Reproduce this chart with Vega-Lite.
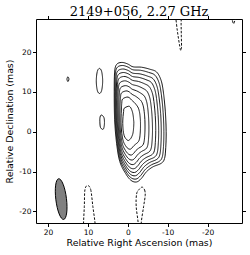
{
  "$schema": "https://vega.github.io/schema/vega-lite/v6.json",
  "width": 206,
  "height": 204,
  "autosize": {"type": "none"},
  "padding": {"left": 36, "top": 19, "right": 8, "bottom": 32},
  "background": "white",
  "title": {"text": "2149+056, 2.27 GHz", "font": "DejaVu Serif", "fontSize": 13, "fontWeight": "normal", "color": "black", "anchor": "middle", "frame": "group", "offset": 3, "dy": 7},
  "config": {"view": {"stroke": "black", "strokeWidth": 1}},
  "datasets": {
    "ct": [
      {"c":"c1","i":1,"x":2.8,"y":16.9,"s":"p"},{"c":"c1","i":2,"x":1.5,"y":17.4,"s":"p"},{"c":"c1","i":3,"x":0.0,"y":17.0,"s":"p"},{"c":"c1","i":4,"x":-1.3,"y":16.3,"s":"p"},{"c":"c1","i":5,"x":-3.4,"y":16.2,"s":"p"},{"c":"c1","i":6,"x":-5.5,"y":15.7,"s":"p"},{"c":"c1","i":7,"x":-7.2,"y":15.0,"s":"p"},{"c":"c1","i":8,"x":-8.3,"y":13.0,"s":"p"},{"c":"c1","i":9,"x":-8.9,"y":10.0,"s":"p"},{"c":"c1","i":10,"x":-9.4,"y":5.0,"s":"p"},{"c":"c1","i":11,"x":-9.6,"y":0.0,"s":"p"},{"c":"c1","i":12,"x":-9.5,"y":-4.0,"s":"p"},{"c":"c1","i":13,"x":-9.2,"y":-6.7,"s":"p"},{"c":"c1","i":14,"x":-8.4,"y":-7.9,"s":"p"},{"c":"c1","i":15,"x":-6.3,"y":-8.8,"s":"p"},{"c":"c1","i":16,"x":-4.7,"y":-10.0,"s":"p"},{"c":"c1","i":17,"x":-3.4,"y":-11.7,"s":"p"},{"c":"c1","i":18,"x":-2.2,"y":-12.6,"s":"p"},{"c":"c1","i":19,"x":-0.8,"y":-12.2,"s":"p"},{"c":"c1","i":20,"x":0.6,"y":-10.4,"s":"p"},{"c":"c1","i":21,"x":2.0,"y":-7.5,"s":"p"},{"c":"c1","i":22,"x":2.8,"y":-3.0,"s":"p"},{"c":"c1","i":23,"x":3.3,"y":3.0,"s":"p"},{"c":"c1","i":24,"x":3.4,"y":10.0,"s":"p"},{"c":"c1","i":25,"x":3.3,"y":15.0,"s":"p"},
      {"c":"c2","i":1,"x":2.67,"y":16.13,"s":"p"},{"c":"c2","i":2,"x":1.38,"y":16.63,"s":"p"},{"c":"c2","i":3,"x":-0.04,"y":16.24,"s":"p"},{"c":"c2","i":4,"x":-1.27,"y":15.56,"s":"p"},{"c":"c2","i":5,"x":-3.24,"y":15.42,"s":"p"},{"c":"c2","i":6,"x":-5.21,"y":14.9,"s":"p"},{"c":"c2","i":7,"x":-6.79,"y":14.2,"s":"p"},{"c":"c2","i":8,"x":-7.82,"y":12.3,"s":"p"},{"c":"c2","i":9,"x":-8.38,"y":9.48,"s":"p"},{"c":"c2","i":10,"x":-8.85,"y":4.79,"s":"p"},{"c":"c2","i":11,"x":-9.03,"y":0.07,"s":"p"},{"c":"c2","i":12,"x":-8.93,"y":-3.72,"s":"p"},{"c":"c2","i":13,"x":-8.64,"y":-6.28,"s":"p"},{"c":"c2","i":14,"x":-7.88,"y":-7.43,"s":"p"},{"c":"c2","i":15,"x":-5.92,"y":-8.3,"s":"p"},{"c":"c2","i":16,"x":-4.41,"y":-9.43,"s":"p"},{"c":"c2","i":17,"x":-3.19,"y":-11.02,"s":"p"},{"c":"c2","i":18,"x":-2.06,"y":-11.87,"s":"p"},{"c":"c2","i":19,"x":-0.73,"y":-11.49,"s":"p"},{"c":"c2","i":20,"x":0.6,"y":-9.78,"s":"p"},{"c":"c2","i":21,"x":1.92,"y":-7.05,"s":"p"},{"c":"c2","i":22,"x":2.68,"y":-2.78,"s":"p"},{"c":"c2","i":23,"x":3.16,"y":2.94,"s":"p"},{"c":"c2","i":24,"x":3.25,"y":9.57,"s":"p"},{"c":"c2","i":25,"x":3.14,"y":14.31,"s":"p"},
      {"c":"c3","i":1,"x":2.52,"y":15.25,"s":"p"},{"c":"c3","i":2,"x":1.25,"y":15.75,"s":"p"},{"c":"c3","i":3,"x":-0.09,"y":15.38,"s":"p"},{"c":"c3","i":4,"x":-1.24,"y":14.71,"s":"p"},{"c":"c3","i":5,"x":-3.06,"y":14.52,"s":"p"},{"c":"c3","i":6,"x":-4.87,"y":13.99,"s":"p"},{"c":"c3","i":7,"x":-6.33,"y":13.29,"s":"p"},{"c":"c3","i":8,"x":-7.27,"y":11.5,"s":"p"},{"c":"c3","i":9,"x":-7.79,"y":8.88,"s":"p"},{"c":"c3","i":10,"x":-8.22,"y":4.55,"s":"p"},{"c":"c3","i":11,"x":-8.38,"y":0.15,"s":"p"},{"c":"c3","i":12,"x":-8.28,"y":-3.4,"s":"p"},{"c":"c3","i":13,"x":-8.0,"y":-5.8,"s":"p"},{"c":"c3","i":14,"x":-7.29,"y":-6.9,"s":"p"},{"c":"c3","i":15,"x":-5.48,"y":-7.72,"s":"p"},{"c":"c3","i":16,"x":-4.09,"y":-8.78,"s":"p"},{"c":"c3","i":17,"x":-2.95,"y":-10.25,"s":"p"},{"c":"c3","i":18,"x":-1.89,"y":-11.04,"s":"p"},{"c":"c3","i":19,"x":-0.65,"y":-10.68,"s":"p"},{"c":"c3","i":20,"x":0.6,"y":-9.08,"s":"p"},{"c":"c3","i":21,"x":1.84,"y":-6.53,"s":"p"},{"c":"c3","i":22,"x":2.55,"y":-2.52,"s":"p"},{"c":"c3","i":23,"x":3.0,"y":2.87,"s":"p"},{"c":"c3","i":24,"x":3.07,"y":9.07,"s":"p"},{"c":"c3","i":25,"x":2.96,"y":13.51,"s":"p"},
      {"c":"c4","i":1,"x":2.36,"y":14.37,"s":"p"},{"c":"c4","i":2,"x":1.12,"y":14.87,"s":"p"},{"c":"c4","i":3,"x":-0.14,"y":14.52,"s":"p"},{"c":"c4","i":4,"x":-1.21,"y":13.86,"s":"p"},{"c":"c4","i":5,"x":-2.88,"y":13.62,"s":"p"},{"c":"c4","i":6,"x":-4.53,"y":13.08,"s":"p"},{"c":"c4","i":7,"x":-5.87,"y":12.38,"s":"p"},{"c":"c4","i":8,"x":-6.72,"y":10.7,"s":"p"},{"c":"c4","i":9,"x":-7.2,"y":8.28,"s":"p"},{"c":"c4","i":10,"x":-7.58,"y":4.31,"s":"p"},{"c":"c4","i":11,"x":-7.73,"y":0.23,"s":"p"},{"c":"c4","i":12,"x":-7.63,"y":-3.08,"s":"p"},{"c":"c4","i":13,"x":-7.36,"y":-5.32,"s":"p"},{"c":"c4","i":14,"x":-6.7,"y":-6.36,"s":"p"},{"c":"c4","i":15,"x":-5.04,"y":-7.14,"s":"p"},{"c":"c4","i":16,"x":-3.76,"y":-8.13,"s":"p"},{"c":"c4","i":17,"x":-2.71,"y":-9.48,"s":"p"},{"c":"c4","i":18,"x":-1.73,"y":-10.21,"s":"p"},{"c":"c4","i":19,"x":-0.57,"y":-9.87,"s":"p"},{"c":"c4","i":20,"x":0.6,"y":-8.38,"s":"p"},{"c":"c4","i":21,"x":1.75,"y":-6.0,"s":"p"},{"c":"c4","i":22,"x":2.42,"y":-2.26,"s":"p"},{"c":"c4","i":23,"x":2.83,"y":2.79,"s":"p"},{"c":"c4","i":24,"x":2.89,"y":8.57,"s":"p"},{"c":"c4","i":25,"x":2.78,"y":12.72,"s":"p"},
      {"c":"c5","i":1,"x":2.19,"y":13.38,"s":"p"},{"c":"c5","i":2,"x":0.97,"y":13.88,"s":"p"},{"c":"c5","i":3,"x":-0.19,"y":13.54,"s":"p"},{"c":"c5","i":4,"x":-1.17,"y":12.91,"s":"p"},{"c":"c5","i":5,"x":-2.68,"y":12.62,"s":"p"},{"c":"c5","i":6,"x":-4.16,"y":12.05,"s":"p"},{"c":"c5","i":7,"x":-5.34,"y":11.35,"s":"p"},{"c":"c5","i":8,"x":-6.11,"y":9.8,"s":"p"},{"c":"c5","i":9,"x":-6.53,"y":7.6,"s":"p"},{"c":"c5","i":10,"x":-6.87,"y":4.04,"s":"p"},{"c":"c5","i":11,"x":-6.99,"y":0.32,"s":"p"},{"c":"c5","i":12,"x":-6.89,"y":-2.72,"s":"p"},{"c":"c5","i":13,"x":-6.64,"y":-4.78,"s":"p"},{"c":"c5","i":14,"x":-6.03,"y":-5.76,"s":"p"},{"c":"c5","i":15,"x":-4.54,"y":-6.5,"s":"p"},{"c":"c5","i":16,"x":-3.39,"y":-7.39,"s":"p"},{"c":"c5","i":17,"x":-2.44,"y":-8.61,"s":"p"},{"c":"c5","i":18,"x":-1.54,"y":-9.27,"s":"p"},{"c":"c5","i":19,"x":-0.48,"y":-8.95,"s":"p"},{"c":"c5","i":20,"x":0.6,"y":-7.58,"s":"p"},{"c":"c5","i":21,"x":1.65,"y":-5.42,"s":"p"},{"c":"c5","i":22,"x":2.27,"y":-1.98,"s":"p"},{"c":"c5","i":23,"x":2.65,"y":2.71,"s":"p"},{"c":"c5","i":24,"x":2.7,"y":8.02,"s":"p"},{"c":"c5","i":25,"x":2.58,"y":11.83,"s":"p"},
      {"c":"c6","i":1,"x":2.0,"y":12.28,"s":"p"},{"c":"c6","i":2,"x":0.81,"y":12.78,"s":"p"},{"c":"c6","i":3,"x":-0.25,"y":12.46,"s":"p"},{"c":"c6","i":4,"x":-1.13,"y":11.85,"s":"p"},{"c":"c6","i":5,"x":-2.46,"y":11.5,"s":"p"},{"c":"c6","i":6,"x":-3.74,"y":10.91,"s":"p"},{"c":"c6","i":7,"x":-4.76,"y":10.21,"s":"p"},{"c":"c6","i":8,"x":-5.42,"y":8.8,"s":"p"},{"c":"c6","i":9,"x":-5.79,"y":6.85,"s":"p"},{"c":"c6","i":10,"x":-6.08,"y":3.74,"s":"p"},{"c":"c6","i":11,"x":-6.18,"y":0.42,"s":"p"},{"c":"c6","i":12,"x":-6.08,"y":-2.32,"s":"p"},{"c":"c6","i":13,"x":-5.84,"y":-4.18,"s":"p"},{"c":"c6","i":14,"x":-5.29,"y":-5.09,"s":"p"},{"c":"c6","i":15,"x":-3.99,"y":-5.78,"s":"p"},{"c":"c6","i":16,"x":-2.98,"y":-6.58,"s":"p"},{"c":"c6","i":17,"x":-2.14,"y":-7.65,"s":"p"},{"c":"c6","i":18,"x":-1.34,"y":-8.23,"s":"p"},{"c":"c6","i":19,"x":-0.38,"y":-7.94,"s":"p"},{"c":"c6","i":20,"x":0.6,"y":-6.7,"s":"p"},{"c":"c6","i":21,"x":1.54,"y":-4.77,"s":"p"},{"c":"c6","i":22,"x":2.11,"y":-1.66,"s":"p"},{"c":"c6","i":23,"x":2.45,"y":2.62,"s":"p"},{"c":"c6","i":24,"x":2.48,"y":7.4,"s":"p"},{"c":"c6","i":25,"x":2.36,"y":10.84,"s":"p"},
      {"c":"c7","i":1,"x":1.79,"y":11.07,"s":"p"},{"c":"c7","i":2,"x":0.63,"y":11.57,"s":"p"},{"c":"c7","i":3,"x":-0.32,"y":11.28,"s":"p"},{"c":"c7","i":4,"x":-1.09,"y":10.68,"s":"p"},{"c":"c7","i":5,"x":-2.21,"y":10.26,"s":"p"},{"c":"c7","i":6,"x":-3.27,"y":9.66,"s":"p"},{"c":"c7","i":7,"x":-4.13,"y":8.96,"s":"p"},{"c":"c7","i":8,"x":-4.67,"y":7.7,"s":"p"},{"c":"c7","i":9,"x":-4.98,"y":6.03,"s":"p"},{"c":"c7","i":10,"x":-5.21,"y":3.41,"s":"p"},{"c":"c7","i":11,"x":-5.28,"y":0.53,"s":"p"},{"c":"c7","i":12,"x":-5.18,"y":-1.88,"s":"p"},{"c":"c7","i":13,"x":-4.96,"y":-3.52,"s":"p"},{"c":"c7","i":14,"x":-4.48,"y":-4.35,"s":"p"},{"c":"c7","i":15,"x":-3.39,"y":-4.98,"s":"p"},{"c":"c7","i":16,"x":-2.53,"y":-5.68,"s":"p"},{"c":"c7","i":17,"x":-1.81,"y":-6.59,"s":"p"},{"c":"c7","i":18,"x":-1.11,"y":-7.09,"s":"p"},{"c":"c7","i":19,"x":-0.27,"y":-6.82,"s":"p"},{"c":"c7","i":20,"x":0.6,"y":-5.74,"s":"p"},{"c":"c7","i":21,"x":1.42,"y":-4.06,"s":"p"},{"c":"c7","i":22,"x":1.93,"y":-1.3,"s":"p"},{"c":"c7","i":23,"x":2.22,"y":2.52,"s":"p"},{"c":"c7","i":24,"x":2.23,"y":6.71,"s":"p"},{"c":"c7","i":25,"x":2.11,"y":9.75,"s":"p"},
      {"c":"c8","i":1,"x":1.57,"y":9.75,"s":"p"},{"c":"c8","i":2,"x":0.43,"y":10.25,"s":"p"},{"c":"c8","i":3,"x":-0.39,"y":9.98,"s":"p"},{"c":"c8","i":4,"x":-1.04,"y":9.41,"s":"p"},{"c":"c8","i":5,"x":-1.94,"y":8.92,"s":"p"},{"c":"c8","i":6,"x":-2.77,"y":8.29,"s":"p"},{"c":"c8","i":7,"x":-3.43,"y":7.59,"s":"p"},{"c":"c8","i":8,"x":-3.85,"y":6.5,"s":"p"},{"c":"c8","i":9,"x":-4.09,"y":5.13,"s":"p"},{"c":"c8","i":10,"x":-4.27,"y":3.05,"s":"p"},{"c":"c8","i":11,"x":-4.3,"y":0.65,"s":"p"},{"c":"c8","i":12,"x":-4.2,"y":-1.4,"s":"p"},{"c":"c8","i":13,"x":-4.0,"y":-2.8,"s":"p"},{"c":"c8","i":14,"x":-3.59,"y":-3.55,"s":"p"},{"c":"c8","i":15,"x":-2.73,"y":-4.12,"s":"p"},{"c":"c8","i":16,"x":-2.04,"y":-4.7,"s":"p"},{"c":"c8","i":17,"x":-1.45,"y":-5.43,"s":"p"},{"c":"c8","i":18,"x":-0.87,"y":-5.84,"s":"p"},{"c":"c8","i":19,"x":-0.15,"y":-5.6,"s":"p"},{"c":"c8","i":20,"x":0.6,"y":-4.68,"s":"p"},{"c":"c8","i":21,"x":1.29,"y":-3.28,"s":"p"},{"c":"c8","i":22,"x":1.73,"y":-0.92,"s":"p"},{"c":"c8","i":23,"x":1.98,"y":2.42,"s":"p"},{"c":"c8","i":24,"x":1.97,"y":5.97,"s":"p"},{"c":"c8","i":25,"x":1.84,"y":8.57,"s":"p"},
      {"c":"c9","i":1,"x":1.3,"y":8.21,"s":"p"},{"c":"c9","i":2,"x":0.2,"y":8.71,"s":"p"},{"c":"c9","i":3,"x":-0.47,"y":8.47,"s":"p"},{"c":"c9","i":4,"x":-0.98,"y":7.93,"s":"p"},{"c":"c9","i":5,"x":-1.62,"y":7.35,"s":"p"},{"c":"c9","i":6,"x":-2.18,"y":6.69,"s":"p"},{"c":"c9","i":7,"x":-2.62,"y":5.99,"s":"p"},{"c":"c9","i":8,"x":-2.89,"y":5.1,"s":"p"},{"c":"c9","i":9,"x":-3.05,"y":4.08,"s":"p"},{"c":"c9","i":10,"x":-3.16,"y":2.63,"s":"p"},{"c":"c9","i":11,"x":-3.16,"y":0.79,"s":"p"},{"c":"c9","i":12,"x":-3.06,"y":-0.84,"s":"p"},{"c":"c9","i":13,"x":-2.88,"y":-1.96,"s":"p"},{"c":"c9","i":14,"x":-2.55,"y":-2.61,"s":"p"},{"c":"c9","i":15,"x":-1.96,"y":-3.11,"s":"p"},{"c":"c9","i":16,"x":-1.46,"y":-3.56,"s":"p"},{"c":"c9","i":17,"x":-1.03,"y":-4.08,"s":"p"},{"c":"c9","i":18,"x":-0.58,"y":-4.38,"s":"p"},{"c":"c9","i":19,"x":-0.01,"y":-4.18,"s":"p"},{"c":"c9","i":20,"x":0.6,"y":-3.45,"s":"p"},{"c":"c9","i":21,"x":1.13,"y":-2.37,"s":"p"},{"c":"c9","i":22,"x":1.5,"y":-0.47,"s":"p"},{"c":"c9","i":23,"x":1.7,"y":2.29,"s":"p"},{"c":"c9","i":24,"x":1.66,"y":4.54,"s":"p"},{"c":"c9","i":25,"x":1.52,"y":7.18,"s":"p"},
      {"c":"c10","i":1,"x":0.9,"y":5.9,"s":"p"},{"c":"c10","i":2,"x":-0.15,"y":6.4,"s":"p"},{"c":"c10","i":3,"x":-0.6,"y":6.2,"s":"p"},{"c":"c10","i":4,"x":-0.9,"y":5.7,"s":"p"},{"c":"c10","i":5,"x":-1.15,"y":5.0,"s":"p"},{"c":"c10","i":6,"x":-1.3,"y":4.3,"s":"p"},{"c":"c10","i":7,"x":-1.4,"y":3.6,"s":"p"},{"c":"c10","i":8,"x":-1.45,"y":3.0,"s":"p"},{"c":"c10","i":9,"x":-1.5,"y":2.5,"s":"p"},{"c":"c10","i":10,"x":-1.5,"y":2.0,"s":"p"},{"c":"c10","i":11,"x":-1.45,"y":1.0,"s":"p"},{"c":"c10","i":12,"x":-1.35,"y":0.0,"s":"p"},{"c":"c10","i":13,"x":-1.2,"y":-0.7,"s":"p"},{"c":"c10","i":14,"x":-1.0,"y":-1.2,"s":"p"},{"c":"c10","i":15,"x":-0.8,"y":-1.6,"s":"p"},{"c":"c10","i":16,"x":-0.6,"y":-1.85,"s":"p"},{"c":"c10","i":17,"x":-0.4,"y":-2.05,"s":"p"},{"c":"c10","i":18,"x":-0.15,"y":-2.2,"s":"p"},{"c":"c10","i":19,"x":0.2,"y":-2.05,"s":"p"},{"c":"c10","i":20,"x":0.6,"y":-1.6,"s":"p"},{"c":"c10","i":21,"x":0.9,"y":-1.0,"s":"p"},{"c":"c10","i":22,"x":1.15,"y":0.2,"s":"p"},{"c":"c10","i":23,"x":1.27,"y":2.1,"s":"p"},{"c":"c10","i":24,"x":1.2,"y":3.8,"s":"p"},{"c":"c10","i":25,"x":1.05,"y":5.1,"s":"p"},
      {"c":"i1","i":1,"x":7.1,"y":15.9,"s":"p"},{"c":"i1","i":2,"x":6.55,"y":15.1,"s":"p"},{"c":"i1","i":3,"x":6.3,"y":12.75,"s":"p"},{"c":"i1","i":4,"x":6.55,"y":10.4,"s":"p"},{"c":"i1","i":5,"x":7.1,"y":9.6,"s":"p"},{"c":"i1","i":6,"x":7.65,"y":10.4,"s":"p"},{"c":"i1","i":7,"x":7.9,"y":12.75,"s":"p"},{"c":"i1","i":8,"x":7.65,"y":15.1,"s":"p"},
      {"c":"i2","i":1,"x":6.6,"y":4.2,"s":"p"},{"c":"i2","i":2,"x":6.0,"y":3.6,"s":"p"},{"c":"i2","i":3,"x":5.85,"y":2.3,"s":"p"},{"c":"i2","i":4,"x":6.0,"y":1.0,"s":"p"},{"c":"i2","i":5,"x":6.3,"y":0.6,"s":"p"},{"c":"i2","i":6,"x":6.85,"y":1.1,"s":"p"},{"c":"i2","i":7,"x":7.0,"y":2.5,"s":"p"},{"c":"i2","i":8,"x":6.95,"y":3.7,"s":"p"},
      {"c":"i3","i":1,"x":15.0,"y":13.8,"s":"p"},{"c":"i3","i":2,"x":14.75,"y":13.2,"s":"p"},{"c":"i3","i":3,"x":15.0,"y":12.6,"s":"p"},{"c":"i3","i":4,"x":15.25,"y":13.2,"s":"p"},
      {"c":"n1","i":1,"x":-11.9,"y":31,"s":"n"},{"c":"n1","i":2,"x":-12.2,"y":27,"s":"n"},{"c":"n1","i":3,"x":-12.6,"y":24,"s":"n"},{"c":"n1","i":4,"x":-13.0,"y":21.5,"s":"n"},{"c":"n1","i":5,"x":-13.25,"y":20.4,"s":"n"},{"c":"n1","i":6,"x":-13.45,"y":21.2,"s":"n"},{"c":"n1","i":7,"x":-13.4,"y":24,"s":"n"},{"c":"n1","i":8,"x":-13.35,"y":27,"s":"n"},{"c":"n1","i":9,"x":-13.3,"y":31,"s":"n"},
      {"c":"n2","i":1,"x":10.1,"y":-13.5,"s":"n"},{"c":"n2","i":2,"x":9.3,"y":-14.5,"s":"n"},{"c":"n2","i":3,"x":8.75,"y":-18.8,"s":"n"},{"c":"n2","i":4,"x":8.2,"y":-23,"s":"n"},{"c":"n2","i":5,"x":7.9,"y":-27,"s":"n"},{"c":"n2","i":6,"x":11.2,"y":-27,"s":"n"},{"c":"n2","i":7,"x":11.1,"y":-23,"s":"n"},{"c":"n2","i":8,"x":10.9,"y":-18.8,"s":"n"},{"c":"n2","i":9,"x":10.75,"y":-14.6,"s":"n"},
      {"c":"n3","i":1,"x":-3.6,"y":-13.9,"s":"n"},{"c":"n3","i":2,"x":-4.2,"y":-14.6,"s":"n"},{"c":"n3","i":3,"x":-4.35,"y":-16,"s":"n"},{"c":"n3","i":4,"x":-3.95,"y":-18.8,"s":"n"},{"c":"n3","i":5,"x":-3.35,"y":-23,"s":"n"},{"c":"n3","i":6,"x":-3.3,"y":-27,"s":"n"},{"c":"n3","i":7,"x":-2.7,"y":-27,"s":"n"},{"c":"n3","i":8,"x":-2.6,"y":-23,"s":"n"},{"c":"n3","i":9,"x":-2.1,"y":-18.8,"s":"n"},{"c":"n3","i":10,"x":-2.2,"y":-15.6,"s":"n"},{"c":"n3","i":11,"x":-2.9,"y":-14.4,"s":"n"},
      {"c":"n4","i":1,"x":-25.9,"y":29,"s":"n"},{"c":"n4","i":2,"x":-26.2,"y":27.9,"s":"n"},{"c":"n4","i":3,"x":-26.5,"y":27.1,"s":"n"},{"c":"n4","i":4,"x":-26.8,"y":27.9,"s":"n"},{"c":"n4","i":5,"x":-27.0,"y":29,"s":"n"}
    ],
    "beam": [{"x": 16.7, "y": -16.9}]
  },
  "layer": [
    {
      "data": {"name": "ct"},
      "mark": {"type": "line", "clip": true, "interpolate": "cardinal-closed", "strokeWidth": 1, "color": "#111111"},
      "encoding": {
        "x": {"field": "x", "type": "quantitative", "scale": {"domain": [-28.6, 23], "reverse": true, "nice": false, "zero": false},
          "axis": {"values": [20, 10, 0, -10, -20], "labelExpr": "'' + datum.value", "tickSize": 3.5, "tickColor": "black", "domain": false, "grid": false, "labelFont": "DejaVu Sans", "labelFontSize": 7.5, "labelColor": "black", "labelPadding": 1.5, "title": "Relative Right Ascension (mas)", "titleFont": "DejaVu Sans", "titleFontSize": 9.4, "titleFontWeight": "normal", "titleColor": "black", "titlePadding": 3}},
        "y": {"field": "y", "type": "quantitative", "scale": {"domain": [-22.9, 28.3], "nice": false, "zero": false},
          "axis": {"values": [-20, -10, 0, 10, 20], "labelExpr": "'' + datum.value", "tickSize": 3.5, "tickColor": "black", "domain": false, "grid": false, "labelFont": "DejaVu Sans", "labelFontSize": 7.5, "labelColor": "black", "labelPadding": 1.5, "title": "Relative Declination (mas)", "titleFont": "DejaVu Sans", "titleFontSize": 9.4, "titleFontWeight": "normal", "titleColor": "black", "titlePadding": 4}},
        "detail": {"field": "c", "type": "nominal"},
        "order": {"field": "i", "type": "quantitative"},
        "strokeDash": {"field": "s", "type": "nominal", "scale": {"domain": ["p", "n"], "range": [[1, 0], [2.5, 1.5]]}, "legend": null}
      }
    },
    {
      "data": {"name": "beam"},
      "mark": {"type": "point", "shape": "M -0.122,-0.993 A 0.26,1,-7,1,1,0.122,0.993 A 0.26,1,-7,1,1,-0.122,-0.993 Z", "size": 1681, "filled": true, "fill": "#808080", "stroke": "black", "strokeWidth": 1, "opacity": 1},
      "encoding": {
        "x": {"field": "x", "type": "quantitative", "scale": {"domain": [-28.6, 23], "reverse": true, "nice": false, "zero": false}, "axis": null},
        "y": {"field": "y", "type": "quantitative", "scale": {"domain": [-22.9, 28.3], "nice": false, "zero": false}, "axis": null}
      }
    },
    {
      "data": {"name": "beam"},
      "mark": {"type": "point", "opacity": 0},
      "encoding": {
        "x": {"field": "x", "type": "quantitative", "scale": {"domain": [-28.6, 23], "reverse": true, "nice": false, "zero": false},
          "axis": {"orient": "top", "values": [20, 10, 0, -10, -20], "labels": false, "tickSize": 3.5, "tickColor": "black", "domain": false, "grid": false, "title": null}},
        "y": {"field": "y", "type": "quantitative", "scale": {"domain": [-22.9, 28.3], "nice": false, "zero": false},
          "axis": {"orient": "right", "values": [-20, -10, 0, 10, 20], "labels": false, "tickSize": 3.5, "tickColor": "black", "domain": false, "grid": false, "title": null}}
      }
    }
  ],
  "resolve": {"axis": {"x": "independent", "y": "independent"}}
}
